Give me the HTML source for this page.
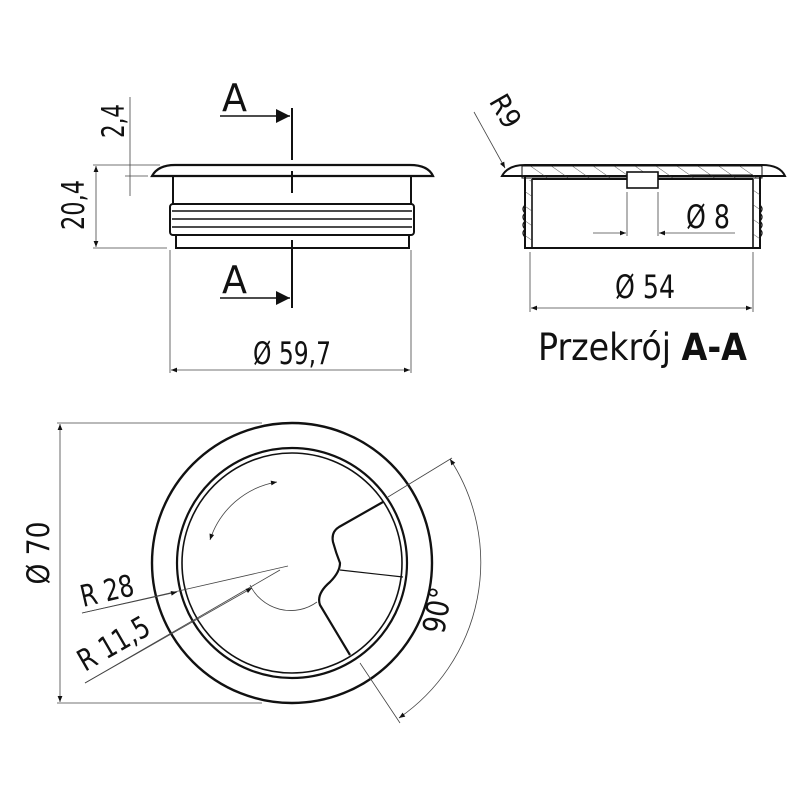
<!DOCTYPE html>
<html><head><meta charset="utf-8"><style>
html,body{margin:0;padding:0;background:#fff}
svg{display:block}
text{font-family:"DejaVu Sans Condensed","Liberation Sans",sans-serif;fill:#111}
</style></head><body>
<svg width="800" height="800" viewBox="0 0 800 800" xmlns="http://www.w3.org/2000/svg">
<defs>
<marker id="ar" viewBox="0 0 10 10" refX="10" refY="5" markerWidth="8" markerHeight="6" orient="auto-start-reverse" markerUnits="userSpaceOnUse"><path d="M0,1 L10,5 L0,9 z" fill="#111"/></marker>
<marker id="big" viewBox="0 0 10 10" refX="10" refY="5" markerWidth="16" markerHeight="14" orient="auto" markerUnits="userSpaceOnUse"><path d="M0,0 L10,5 L0,10 z" fill="#111"/></marker>
<pattern id="hatch" width="12" height="12" patternUnits="userSpaceOnUse" patternTransform="rotate(-55)"><line x1="0" y1="0" x2="0" y2="12" stroke="#333" stroke-width="0.8"/></pattern>
</defs>
<g fill="none" stroke="#111">
<path d="M152,176 Q158,165 175,165 L410,165 Q428,165 433,176 Z" stroke-width="2.2"/>
<rect x="173" y="176" width="238" height="28" stroke-width="2"/>
<rect x="170" y="204" width="244" height="31" rx="3" stroke-width="2"/>
<line x1="172" y1="211" x2="412" y2="211" stroke-width="1.6"/>
<line x1="172" y1="219" x2="412" y2="219" stroke-width="1.6"/>
<line x1="172" y1="227" x2="412" y2="227" stroke-width="1.6"/>
<rect x="176" y="235" width="233" height="13" stroke-width="2"/>
<line x1="292" y1="108" x2="292" y2="160" stroke-width="2"/>
<line x1="292" y1="171" x2="292" y2="193" stroke-width="2"/>
<line x1="292" y1="240" x2="292" y2="308" stroke-width="2"/>
<line x1="220" y1="116" x2="290" y2="116" stroke-width="1.6" marker-end="url(#big)"/>
<line x1="220" y1="298" x2="290" y2="298" stroke-width="1.6" marker-end="url(#big)"/>
<g stroke="#444" stroke-width="0.8">
<line x1="93" y1="165" x2="160" y2="165"/>
<line x1="93" y1="248" x2="167" y2="248"/>
<line x1="96" y1="166" x2="96" y2="247" marker-start="url(#ar)" marker-end="url(#ar)"/>
<line x1="130" y1="97" x2="130" y2="196"/>
<line x1="125" y1="176" x2="148" y2="176"/>
<line x1="170" y1="250" x2="170" y2="373"/>
<line x1="411" y1="250" x2="411" y2="373"/>
<line x1="171" y1="370" x2="410" y2="370" marker-start="url(#ar)" marker-end="url(#ar)"/>
</g>
<path d="M502,176 Q508,165 525,165 L762,165 Q780,165 785,176 Z" stroke-width="2"/>
<rect x="522" y="166" width="240" height="12" fill="url(#hatch)" stroke-width="1"/>
<line x1="532" y1="179" x2="753" y2="179" stroke-width="2"/>
<path d="M525,176 L525,248 L760,248 L760,176" stroke-width="2"/>
<line x1="532" y1="179" x2="532" y2="248" stroke-width="1.6"/>
<line x1="753" y1="179" x2="753" y2="248" stroke-width="1.6"/>
<rect x="525" y="180" width="7" height="66" fill="url(#hatch)" stroke="none"/>
<rect x="753" y="180" width="7" height="66" fill="url(#hatch)" stroke="none"/>
<path d="M525,205 q-4,4 0,8 q-4,4 0,8 q-4,4 0,8 q-4,4 0,8" stroke-width="1.2"/>
<path d="M760,205 q4,4 0,8 q4,4 0,8 q4,4 0,8 q4,4 0,8" stroke-width="1.2"/>
<rect x="627" y="172" width="31" height="16" fill="#fff" stroke-width="1.6"/>
<line x1="690" y1="175" x2="753" y2="175" stroke-width="1"/>
<g stroke="#444" stroke-width="0.8">
<line x1="627" y1="192" x2="627" y2="236"/>
<line x1="658" y1="192" x2="658" y2="236"/>
<line x1="593" y1="233" x2="626" y2="233" marker-end="url(#ar)"/>
<line x1="735" y1="233" x2="659" y2="233" marker-end="url(#ar)"/>
<line x1="474" y1="112" x2="505" y2="168" marker-end="url(#ar)"/>
<line x1="530" y1="252" x2="530" y2="312"/>
<line x1="753" y1="252" x2="753" y2="312"/>
<line x1="531" y1="308" x2="752" y2="308" marker-start="url(#ar)" marker-end="url(#ar)"/>
</g>
<circle cx="292" cy="563" r="140" stroke-width="2.4"/>
<circle cx="292" cy="563" r="115" stroke-width="2.2"/>
<circle cx="292" cy="563" r="110" stroke-width="1.6"/>
<path d="M383,502 L339,527 Q331,532 333,542 Q336,553 340,563 Q340,572 330,582 Q316,594 320,605 L350,655" stroke-width="2.2"/>
<line x1="340" y1="570" x2="403" y2="577" stroke-width="1.2"/>
<g stroke="#444" stroke-width="0.8">
<line x1="57" y1="423" x2="262" y2="423"/>
<line x1="57" y1="703" x2="262" y2="703"/>
<line x1="60" y1="424" x2="60" y2="702" marker-start="url(#ar)" marker-end="url(#ar)"/>
<line x1="388" y1="497" x2="452" y2="458"/>
<line x1="360" y1="663" x2="400" y2="723"/>
<path d="M450,459 A189,189 0 0 1 399,718" marker-start="url(#ar)" marker-end="url(#ar)"/>
<line x1="82" y1="613" x2="288" y2="566"/>
<line x1="82" y1="613" x2="177" y2="592" marker-end="url(#ar)"/>
<line x1="85" y1="683" x2="280" y2="570"/>
<line x1="85" y1="683" x2="252" y2="588" marker-end="url(#ar)"/>
<path d="M250,585 A45,45 0 0 0 317,602"/>
<path d="M277,482 A85,85 0 0 0 210,540" marker-start="url(#ar)" marker-end="url(#ar)"/>
</g>
</g>
<text x="222" y="111" font-size="38" textLength="25" lengthAdjust="spacingAndGlyphs">A</text>
<text x="222" y="293" font-size="38" textLength="25" lengthAdjust="spacingAndGlyphs">A</text>
<text transform="translate(84,205) rotate(-90)" font-size="31" text-anchor="middle" textLength="50" lengthAdjust="spacingAndGlyphs">20,4</text>
<text transform="translate(124,121) rotate(-90)" font-size="31" text-anchor="middle" textLength="34" lengthAdjust="spacingAndGlyphs">2,4</text>
<text x="292" y="364" font-size="31" text-anchor="middle" textLength="78" lengthAdjust="spacingAndGlyphs">Ø 59,7</text>
<text transform="translate(497,116) rotate(60)" font-size="28" text-anchor="middle" textLength="34" lengthAdjust="spacingAndGlyphs">R9</text>
<text x="708" y="228" font-size="32" text-anchor="middle" textLength="44" lengthAdjust="spacingAndGlyphs">Ø 8</text>
<text x="645" y="298" font-size="32" text-anchor="middle" textLength="60" lengthAdjust="spacingAndGlyphs">Ø 54</text>
<text x="538" y="360" font-size="37" textLength="209" lengthAdjust="spacingAndGlyphs">Przekrój <tspan font-weight="bold">A-A</tspan></text>
<text transform="translate(49,553) rotate(-90)" font-size="31" text-anchor="middle" textLength="63" lengthAdjust="spacingAndGlyphs">Ø 70</text>
<text transform="translate(83,607) rotate(-13)" font-size="30" textLength="54" lengthAdjust="spacingAndGlyphs">R 28</text>
<text transform="translate(85,672) rotate(-30)" font-size="30" textLength="78" lengthAdjust="spacingAndGlyphs">R 11,5</text>
<text transform="translate(448,612) rotate(-80)" font-size="31" text-anchor="middle" textLength="46" lengthAdjust="spacingAndGlyphs">90°</text>
</svg>
</body></html>
